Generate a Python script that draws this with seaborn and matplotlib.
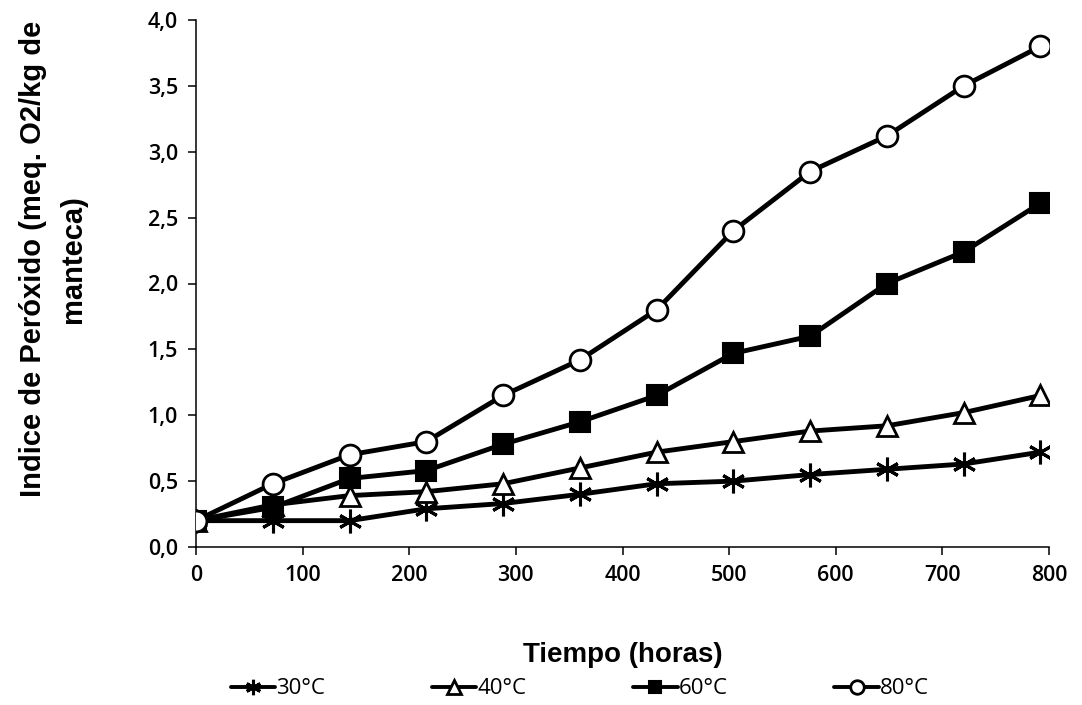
import matplotlib
matplotlib.use("Agg")
import matplotlib.pyplot as plt
import seaborn as sns
import pandas as pd
from matplotlib.ticker import FuncFormatter, MultipleLocator

hours = [0, 72, 144, 216, 288, 360, 432, 504, 576, 648, 720, 792]
t30 = [0.20, 0.20, 0.20, 0.29, 0.33, 0.40, 0.48, 0.50, 0.55, 0.59, 0.63, 0.72]
t40 = [0.20, 0.32, 0.39, 0.42, 0.48, 0.60, 0.72, 0.80, 0.88, 0.92, 1.02, 1.15]
t60 = [0.20, 0.30, 0.52, 0.58, 0.78, 0.95, 1.15, 1.47, 1.60, 2.00, 2.24, 2.61]
t80 = [0.20, 0.48, 0.70, 0.80, 1.15, 1.42, 1.80, 2.40, 2.85, 3.12, 3.50, 3.80]
series_names = ["30°C", "40°C", "60°C", "80°C"]

sns.set_style("white")
plt.rcParams["font.family"] = ["Open Sans", "DejaVu Sans"]
plt.rcParams["text.color"] = "black"

df = pd.concat([
    pd.DataFrame({"x": hours, "y": vals, "serie": name})
    for name, vals in zip(series_names, [t30, t40, t60, t80])
])

fig = plt.figure(figsize=(10.82, 7.05), dpi=100)
ax = fig.add_axes([196 / 1082, 1 - 547 / 705, 853 / 1082, 527 / 705])

styles = {
    "30°C": dict(marker=(6, 2, 0), markersize=17, markerfacecolor="black", markeredgecolor="black", markeredgewidth=2.2),
    "40°C": dict(marker="^", markersize=15, markerfacecolor="white", markeredgecolor="black", markeredgewidth=2),
    "60°C": dict(marker="s", markersize=14, markerfacecolor="black", markeredgecolor="black", markeredgewidth=1.5),
    "80°C": dict(marker="o", markersize=15, markerfacecolor="white", markeredgecolor="black", markeredgewidth=2),
}
for i, name in enumerate(series_names):
    sub = df[df["serie"] == name]
    sns.lineplot(data=sub, x="x", y="y", ax=ax, color="black", linewidth=3.5,
                 label=name, zorder=3 + i, **styles[name])

ax.set_xlim(0, 800)
ax.set_ylim(0, 4.0)
ax.xaxis.set_major_locator(MultipleLocator(100))
ax.yaxis.set_major_locator(MultipleLocator(0.5))
ax.yaxis.set_major_formatter(FuncFormatter(lambda v, p: f"{v:.1f}".replace(".", ",")))
for s in ["top", "right"]:
    ax.spines[s].set_visible(False)
for s in ["left", "bottom"]:
    ax.spines[s].set_color("black")
    ax.spines[s].set_linewidth(1.1)
ax.tick_params(axis="both", direction="out", length=6, width=1.1, colors="black",
               labelsize=15.5, pad=7, left=True, bottom=True)
for lab in ax.get_xticklabels() + ax.get_yticklabels():
    lab.set_fontweight("semibold")

ax.set_xlabel("Tiempo (horas)", fontsize=20, fontweight="bold", color="black",
              family=["Liberation Sans", "DejaVu Sans"])
ax.xaxis.set_label_coords(0.5, -0.18)
ax.set_ylabel("Indice de Peróxido (meq. O2/kg de\nmanteca)", fontsize=21, fontweight="bold",
              color="black", family=["Liberation Sans", "DejaVu Sans"], linespacing=1.55)
ax.yaxis.set_label_coords(-0.128, 0.546)

ax.get_legend().remove()
handles, labels = ax.get_legend_handles_labels()
leg = fig.legend(handles, labels, loc="center", bbox_to_anchor=(580 / 1082, 1 - 689 / 705), ncol=4,
                 frameon=False, handlelength=2.0, handletextpad=0.05, columnspacing=4.8,
                 prop={"size": 16, "family": ["Open Sans", "DejaVu Sans"]}, markerscale=0.65)
for h in leg.legend_handles:
    h.set_linewidth(2.8)

fig.savefig("out.png", dpi=100)
